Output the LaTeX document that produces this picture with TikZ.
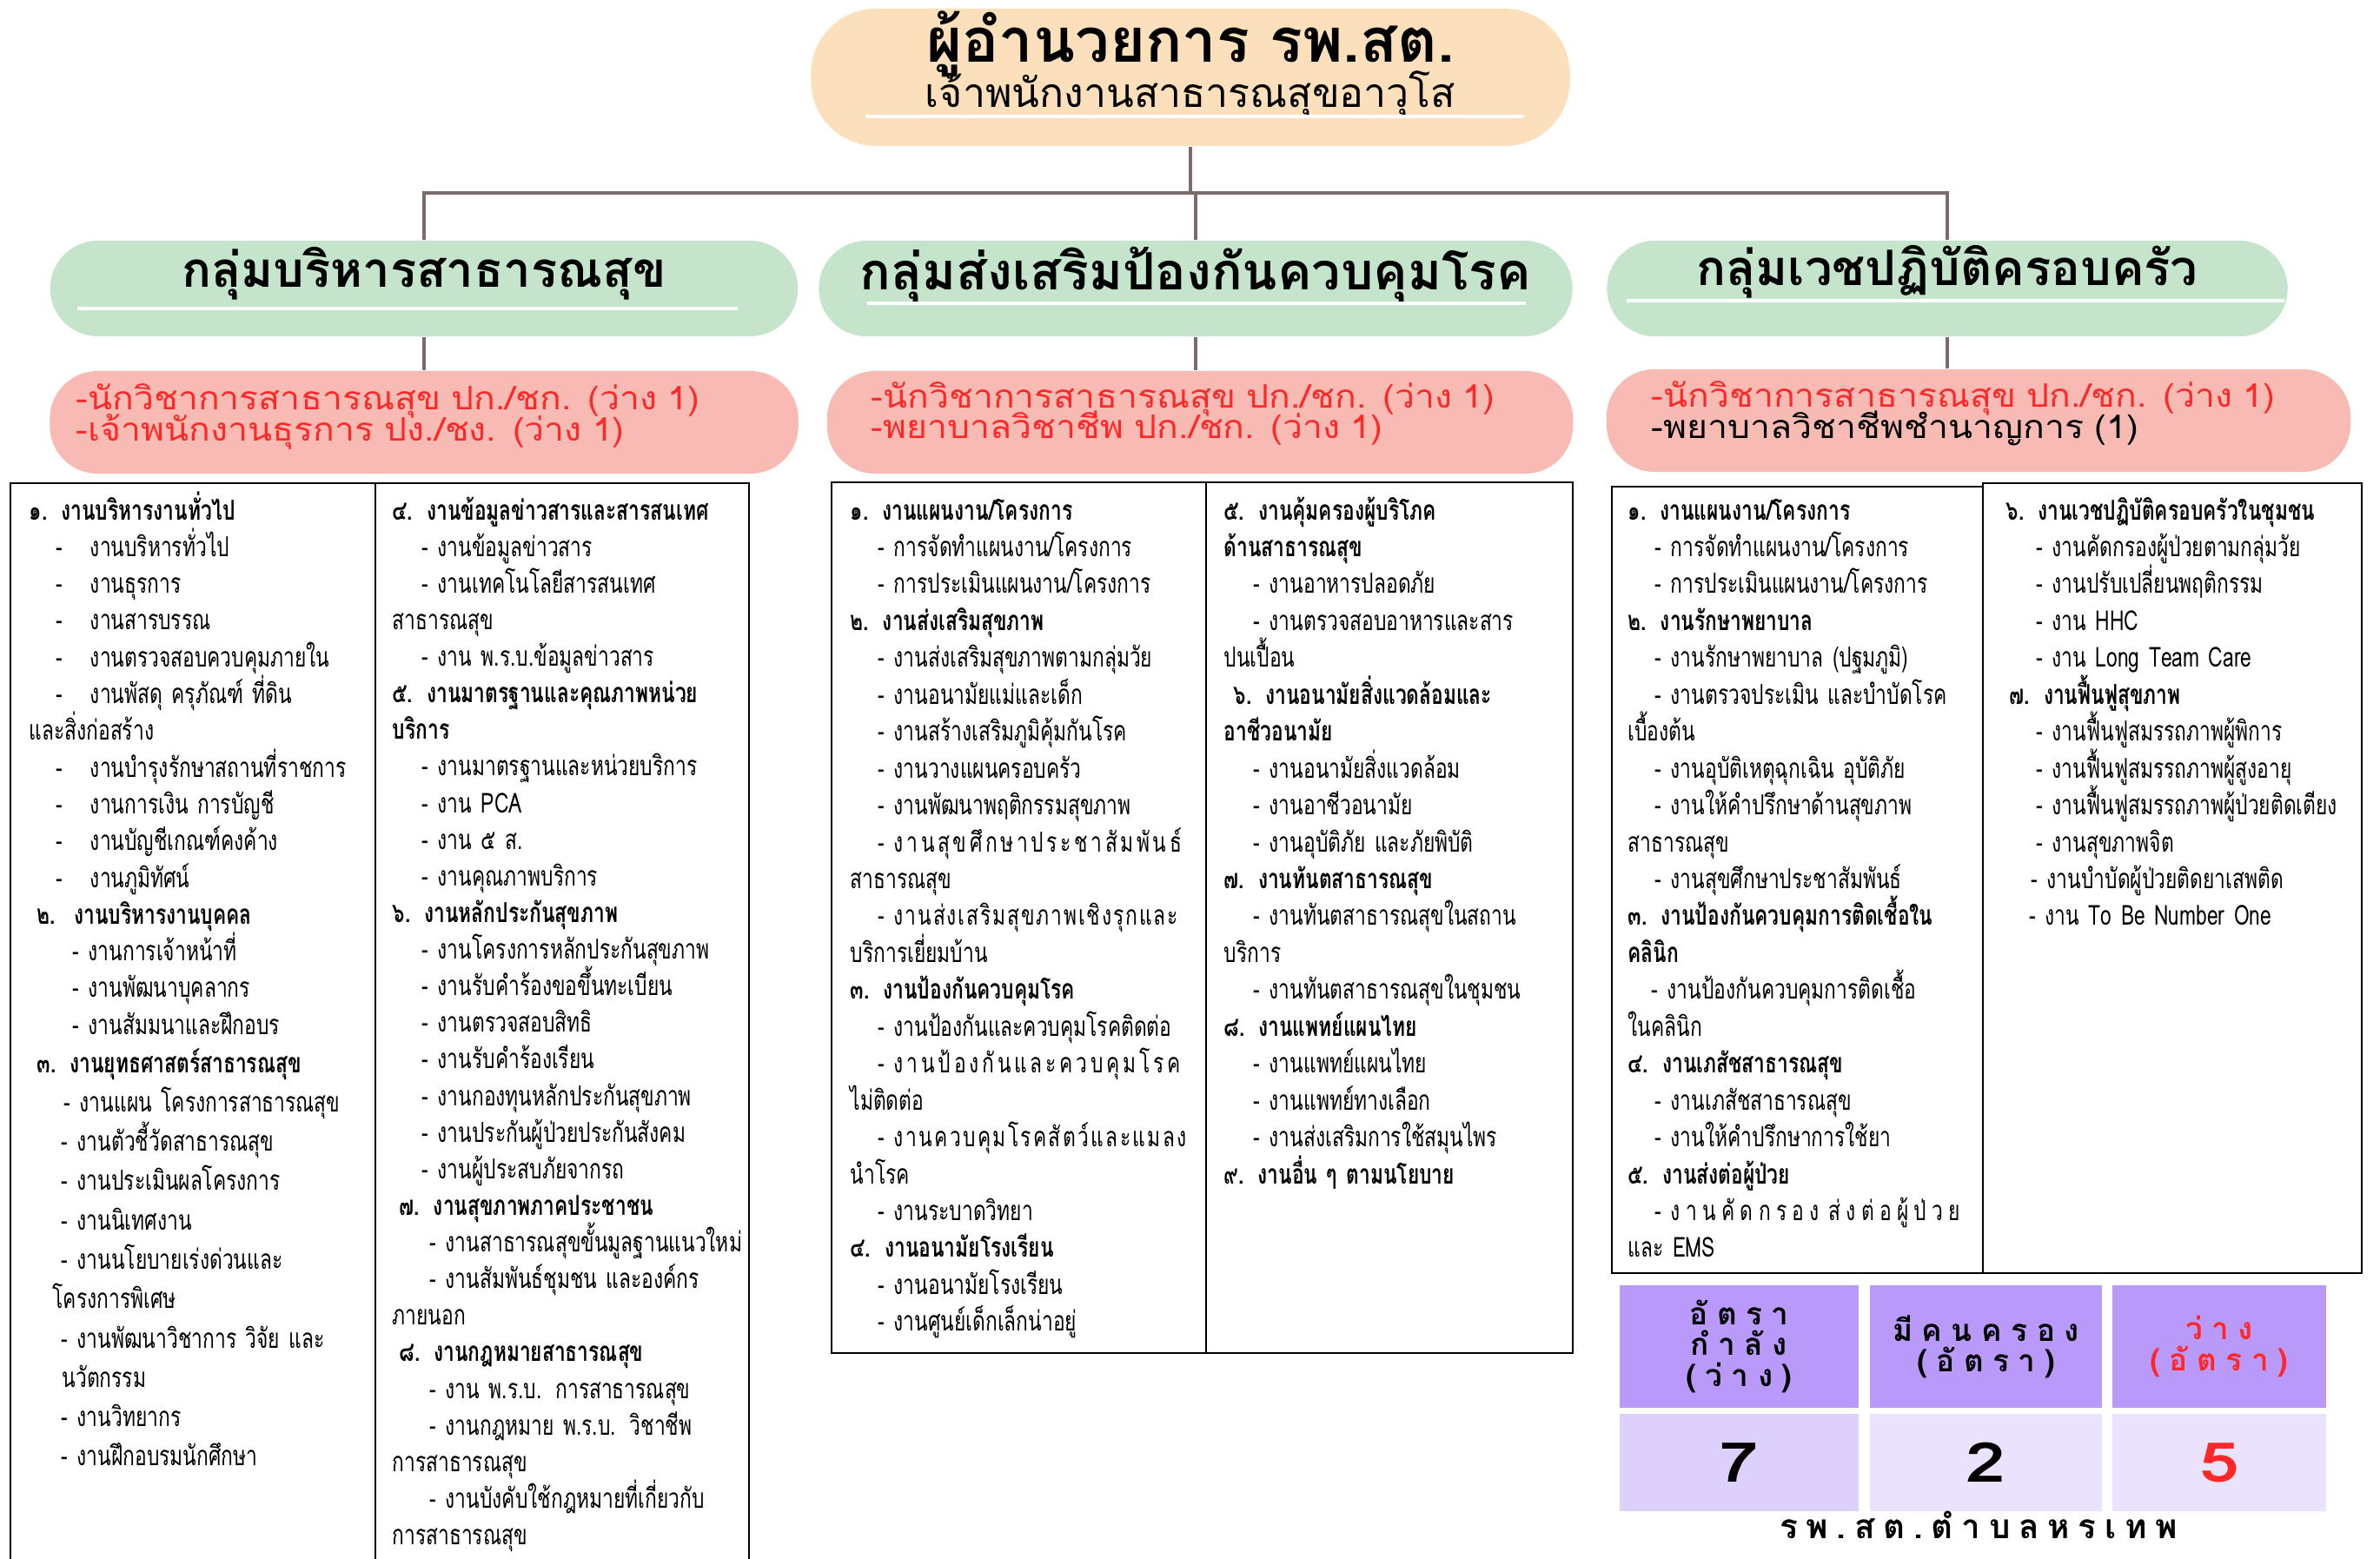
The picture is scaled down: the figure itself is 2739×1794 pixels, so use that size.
\documentclass[tikz,border=0pt]{standalone}
\usepackage{fontspec}
\setmainfont{Loma}[Script=Thai]
\newfontfamily\thainarrow{Loma}[Script=Thai,FakeStretch=0.72]
\newfontfamily\thaiwide{Loma}[Script=Thai,FakeStretch=1.3]
\definecolor{peachbox}{RGB}{252,224,188}
\definecolor{greenbox}{RGB}{196,229,204}
\definecolor{redbox}{RGB}{248,187,180}
\definecolor{linkgray}{RGB}{123,107,107}
\definecolor{redtext}{RGB}{255,40,40}
\definecolor{purplehead}{RGB}{185,154,250}
\definecolor{purplecell}{RGB}{221,208,252}
\definecolor{purplelight}{RGB}{235,227,253}
\newlength\pxu
\setlength\pxu{0.01cm}
\newcommand{\tablefont}[1]{\thainarrow\fontsize{9}{#1}\selectfont\normalbaselineskip=#1\lineskiplimit=-100pt\relax}
\newcommand{\postfont}{\fontsize{10.6}{10.2}\selectfont\addfontfeature{FakeStretch=1.1}\normalbaselineskip=10.2pt\lineskiplimit=-100pt\relax}
\newcommand{\countfont}{\fontsize{10}{10}\selectfont\bfseries\addfontfeature{LetterSpace=30}\normalbaselineskip=10pt\lineskiplimit=-100pt\relax}
\newcommand{\unitfont}{\fontsize{11}{13}\selectfont\bfseries\addfontfeature{LetterSpace=25}}
\newcommand{\jobhead}[2][0]{\hspace*{#1\pxu}\textbf{#2}}
\newcommand{\jobitem}[2][32]{\hspace*{#1\pxu}- #2}
\newcommand{\jobwide}[3][32]{\hspace*{#1\pxu}{\addfontfeature{LetterSpace=#2}- #3}}
\newcommand{\jobwrap}[2][0]{\hspace*{#1\pxu}#2}
\tikzset{
  pillbox/.style={draw=none, rounded corners=0.55cm},
  link/.style={draw=linkgray, line width=0.9pt},
  underline/.style={draw=white, line width=1pt},
  tablebox/.style={draw=black, line width=0.8pt},
  coltext/.style={anchor=base west, align=left, inner sep=0pt, text width=5cm, font=\tablefont{12.07pt}},
  grouptitle/.style={font=\fontsize{16}{19}\selectfont\bfseries},
  posttext/.style={anchor=west, align=left, inner sep=0pt, text width=8cm, text=redtext, font=\postfont},
  headcell/.style={fill=purplehead, minimum width=2.75cm, minimum height=1.41cm, inner sep=0pt, align=center, font=\countfont},
  valuecell/.style={minimum height=1.12cm, inner sep=0pt, font=\thaiwide\fontsize{18}{20}\selectfont\bfseries},
}
\begin{document}
\begin{tikzpicture}[x=0.01cm, y=-0.01cm]
\useasboundingbox (0,0) rectangle (2739,1794);
% director
\node[pillbox, fill=peachbox, rounded corners=0.75cm, minimum width=8.73cm, minimum height=1.58cm] (director) at (1370,89) {};
\node[font=\fontsize{20}{24}\selectfont\bfseries] (directorname) at (1370,51) {ผู้อำนวยการ รพ.สต.};
\node[font=\fontsize{13.2}{16}\selectfont] (directorrank) at (1370,109) {เจ้าพนักงานสาธารณสุขอาวุโส};
\draw[underline] (996,134) -- (1753,134);
% groups
\node[pillbox, fill=greenbox, minimum width=8.6cm, minimum height=1.1cm] (grpadmin) at (488,332) {};
\node[pillbox, fill=greenbox, minimum width=8.67cm, minimum height=1.1cm] (grpcontrol) at (1376,332) {};
\node[pillbox, fill=greenbox, minimum width=7.83cm, minimum height=1.1cm] (grpfamily) at (2241,332) {};
\node[grouptitle] at (488,315) {กลุ่มบริหารสาธารณสุข};
\node[grouptitle, font=\fontsize{16.8}{19}\selectfont\bfseries] at (1376,317) {กลุ่มส่งเสริมป้องกันควบคุมโรค};
\node[grouptitle] at (2241,313) {กลุ่มเวชปฏิบัติครอบครัว};
\draw[underline] (89,355) -- (849,355);
\draw[underline] (998,349) -- (1756,349);
\draw[underline] (1872,346) -- (2629,346);
\coordinate (hub) at (1370,222);
\draw[link] (director.south) -- (hub);
\draw[link] (grpadmin.north) |- (hub) -| (grpfamily.north);
\draw[link] (grpcontrol.north) -- (grpcontrol.north |- hub);
% posts
\node[pillbox, fill=redbox, minimum width=8.61cm, minimum height=1.18cm] (postadmin) at (488,486) {};
\node[pillbox, fill=redbox, minimum width=8.58cm, minimum height=1.18cm] (postcontrol) at (1381,486) {};
\node[pillbox, fill=redbox, minimum width=8.56cm, minimum height=1.18cm] (postfamily) at (2277,484) {};
\draw[link] (grpadmin.south) -- (postadmin.north);
\draw[link] (grpcontrol.south) -- (grpcontrol.south |- postcontrol.north);
\draw[link] (grpfamily.south) -- (grpfamily.south |- postfamily.north);
\node[posttext] at (87,479) {-นักวิชาการสาธารณสุข ปก./ชก. (ว่าง 1)\\-เจ้าพนักงานธุรการ ปง./ชง. (ว่าง 1)};
\node[posttext] at (1002,476) {-นักวิชาการสาธารณสุข ปก./ชก. (ว่าง 1)\\-พยาบาลวิชาชีพ ปก./ชก. (ว่าง 1)};
\node[posttext] at (1900,476) {-นักวิชาการสาธารณสุข ปก./ชก. (ว่าง 1)\\\textcolor{black}{-พยาบาลวิชาชีพชำนาญการ (1)}};
% tables
\draw[tablebox] (12,556) rectangle (862,1820);
\draw[tablebox] (432,556) -- (432,1820);
\draw[tablebox] (957,555) rectangle (1810,1557);
\draw[tablebox] (1388,555) -- (1388,1557);
\draw[tablebox] (1855,560) rectangle (2282,1465);
\draw[tablebox] (2282,556) rectangle (2718,1465);
\node[coltext, font=\tablefont{12.03pt}] (coladmin) at (33,598) {%
\jobhead{๑. งานบริหารงานทั่วไป}\\
\jobitem[31]{~~งานบริหารทั่วไป}\\
\jobitem[31]{~~งานธุรการ}\\
\jobitem[31]{~~งานสารบรรณ}\\
\jobitem[31]{~~งานตรวจสอบควบคุมภายใน}\\
\jobitem[31]{~~งานพัสดุ ครุภัณฑ์ ที่ดิน}\\
\jobwrap{และสิ่งก่อสร้าง}\\
\jobitem[31]{~~งานบำรุงรักษาสถานที่ราชการ}\\
\jobitem[31]{~~งานการเงิน การบัญชี}\\
\jobitem[31]{~~งานบัญชีเกณฑ์คงค้าง}\\
\jobitem[31]{~~งานภูมิทัศน์}\\
\jobhead[9]{๒.~~งานบริหารงานบุคคล}\\
\jobitem[50]{งานการเจ้าหน้าที่}\\
\jobitem[50]{งานพัฒนาบุคลากร}\\
\jobitem[50]{งานสัมมนาและฝึกอบร}};
\node[coltext, font=\tablefont{12.88pt}] (colplan) at (33,1234) {%
\jobhead[9]{๓. งานยุทธศาสตร์สาธารณสุข}\\
\jobitem[40]{งานแผน โครงการสาธารณสุข}\\
\jobitem[37]{งานตัวชี้วัดสาธารณสุข}\\
\jobitem[37]{งานประเมินผลโครงการ}\\
\jobitem[37]{งานนิเทศงาน}\\
\jobitem[37]{งานนโยบายเร่งด่วนและ}\\
\jobwrap[27]{โครงการพิเศษ}\\
\jobitem[37]{งานพัฒนาวิชาการ วิจัย และ}\\
\jobwrap[38]{นวัตกรรม}\\
\jobitem[37]{งานวิทยากร}\\
\jobitem[37]{งานฝึกอบรมนักศึกษา}};
\node[coltext, font=\tablefont{11.98pt}] (colinfo) at (451,598) {%
\jobhead{๔. งานข้อมูลข่าวสารและสารสนเทศ}\\
\jobitem[34]{งานข้อมูลข่าวสาร}\\
\jobitem[34]{งานเทคโนโลยีสารสนเทศ}\\
\jobwrap{สาธารณสุข}\\
\jobitem[34]{งาน พ.ร.บ.ข้อมูลข่าวสาร}\\
\jobhead{๕. งานมาตรฐานและคุณภาพหน่วย}\\
\jobhead{บริการ}\\
\jobitem[34]{งานมาตรฐานและหน่วยบริการ}\\
\jobitem[34]{งาน PCA}\\
\jobitem[34]{งาน ๕ ส.}\\
\jobitem[34]{งานคุณภาพบริการ}\\
\jobhead{๖. งานหลักประกันสุขภาพ}\\
\jobitem[34]{งานโครงการหลักประกันสุขภาพ}\\
\jobitem[34]{งานรับคำร้องขอขึ้นทะเบียน}\\
\jobitem[34]{งานตรวจสอบสิทธิ}\\
\jobitem[34]{งานรับคำร้องเรียน}\\
\jobitem[34]{งานกองทุนหลักประกันสุขภาพ}\\
\jobitem[34]{งานประกันผู้ป่วยประกันสังคม}\\
\jobitem[34]{งานผู้ประสบภัยจากรถ}\\
\jobhead[8]{๗. งานสุขภาพภาคประชาชน}\\
\jobitem[43]{งานสาธารณสุขขั้นมูลฐานแนวใหม่}\\
\jobitem[43]{งานสัมพันธ์ชุมชน และองค์กร}\\
\jobwrap{ภายนอก}\\
\jobhead[8]{๘. งานกฎหมายสาธารณสุข}\\
\jobitem[43]{งาน พ.ร.บ. การสาธารณสุข}\\
\jobitem[43]{งานกฎหมาย พ.ร.บ. วิชาชีพ}\\
\jobwrap{การสาธารณสุข}\\
\jobitem[43]{งานบังคับใช้กฎหมายที่เกี่ยวกับ}\\
\jobwrap{การสาธารณสุข}};
\node[coltext] (colpromote) at (978,598) {%
\jobhead{๑. งานแผนงาน/โครงการ}\\
\jobitem{การจัดทำแผนงาน/โครงการ}\\
\jobitem{การประเมินแผนงาน/โครงการ}\\
\jobhead{๒. งานส่งเสริมสุขภาพ}\\
\jobitem{งานส่งเสริมสุขภาพตามกลุ่มวัย}\\
\jobitem{งานอนามัยแม่และเด็ก}\\
\jobitem{งานสร้างเสริมภูมิคุ้มกันโรค}\\
\jobitem{งานวางแผนครอบครัว}\\
\jobitem{งานพัฒนาพฤติกรรมสุขภาพ}\\
\jobwide{11.5}{งานสุขศึกษาประชาสัมพันธ์}\\
\jobwrap{สาธารณสุข}\\
\jobwide{6}{งานส่งเสริมสุขภาพเชิงรุกและ}\\
\jobwrap{บริการเยี่ยมบ้าน}\\
\jobhead{๓. งานป้องกันควบคุมโรค}\\
\jobitem{งานป้องกันและควบคุมโรคติดต่อ}\\
\jobwide{12}{งานป้องกันและควบคุมโรค}\\
\jobwrap{ไม่ติดต่อ}\\
\jobwide{7.5}{งานควบคุมโรคสัตว์และแมลง}\\
\jobwrap{นำโรค}\\
\jobitem{งานระบาดวิทยา}\\
\jobhead{๔. งานอนามัยโรงเรียน}\\
\jobitem{งานอนามัยโรงเรียน}\\
\jobitem{งานศูนย์เด็กเล็กน่าอยู่}};
\node[coltext] (colhealth) at (1408,598) {%
\jobhead{๕. งานคุ้มครองผู้บริโภค}\\
\jobhead{ด้านสาธารณสุข}\\
\jobitem[34]{งานอาหารปลอดภัย}\\
\jobitem[34]{งานตรวจสอบอาหารและสาร}\\
\jobwrap{ปนเปื้อน}\\
\jobhead[11]{๖. งานอนามัยสิ่งแวดล้อมและ}\\
\jobhead{อาชีวอนามัย}\\
\jobitem[34]{งานอนามัยสิ่งแวดล้อม}\\
\jobitem[34]{งานอาชีวอนามัย}\\
\jobitem[34]{งานอุบัติภัย และภัยพิบัติ}\\
\jobhead{๗. งานทันตสาธารณสุข}\\
\jobitem[34]{งานทันตสาธารณสุขในสถาน}\\
\jobwrap{บริการ}\\
\jobitem[34]{งานทันตสาธารณสุขในชุมชน}\\
\jobhead{๘. งานแพทย์แผนไทย}\\
\jobitem[34]{งานแพทย์แผนไทย}\\
\jobitem[34]{งานแพทย์ทางเลือก}\\
\jobitem[34]{งานส่งเสริมการใช้สมุนไพร}\\
\jobhead{๙. งานอื่น ๆ ตามนโยบาย}};
\node[coltext] (colclinic) at (1873,598) {%
\jobhead{๑. งานแผนงาน/โครงการ}\\
\jobitem[31]{การจัดทำแผนงาน/โครงการ}\\
\jobitem[31]{การประเมินแผนงาน/โครงการ}\\
\jobhead{๒. งานรักษาพยาบาล}\\
\jobitem[31]{งานรักษาพยาบาล (ปฐมภูมิ)}\\
\jobitem[31]{งานตรวจประเมิน และบำบัดโรค}\\
\jobwrap{เบื้องต้น}\\
\jobitem[31]{งานอุบัติเหตุฉุกเฉิน อุบัติภัย}\\
\jobitem[31]{งานให้คำปรึกษาด้านสุขภาพ}\\
\jobwrap{สาธารณสุข}\\
\jobitem[31]{งานสุขศึกษาประชาสัมพันธ์}\\
\jobhead{๓. งานป้องกันควบคุมการติดเชื้อใน}\\
\jobhead{คลินิก}\\
\jobitem[27]{งานป้องกันควบคุมการติดเชื้อ}\\
\jobwrap{ในคลินิก}\\
\jobhead{๔. งานเภสัชสาธารณสุข}\\
\jobitem[31]{งานเภสัชสาธารณสุข}\\
\jobitem[31]{งานให้คำปรึกษาการใช้ยา}\\
\jobhead{๕. งานส่งต่อผู้ป่วย}\\
\jobwide[31]{20}{งานคัดกรอง ส่งต่อผู้ป่วย}\\
\jobwrap{และ EMS}};
\node[coltext] (colcommunity) at (2308,598) {%
\jobhead{๖. งานเวชปฏิบัติครอบครัวในชุมชน}\\
\jobitem[35]{งานคัดกรองผู้ป่วยตามกลุ่มวัย}\\
\jobitem[35]{งานปรับเปลี่ยนพฤติกรรม}\\
\jobitem[35]{งาน HHC}\\
\jobitem[35]{งาน Long Team Care}\\
\jobhead[4]{๗. งานฟื้นฟูสุขภาพ}\\
\jobitem[35]{งานฟื้นฟูสมรรถภาพผู้พิการ}\\
\jobitem[35]{งานฟื้นฟูสมรรถภาพผู้สูงอายุ}\\
\jobitem[35]{งานฟื้นฟูสมรรถภาพผู้ป่วยติดเตียง}\\
\jobitem[35]{งานสุขภาพจิต}\\
\jobitem[29]{งานบำบัดผู้ป่วยติดยาเสพติด}\\
\jobitem[27]{งาน To Be Number One}};
% staff count
\node[headcell] (ratehead) at (2001.5,1549.5) {อัตรา\\กำลัง\\(ว่าง)};
\node[headcell, minimum width=2.67cm] (filledhead) at (2285.5,1549.5) {มีคนครอง\\(อัตรา)};
\node[headcell, minimum width=2.46cm, text=redtext] (vacanthead) at (2554,1549.5) {ว่าง\\(อัตรา)};
\node[valuecell, fill=purplecell, minimum width=2.75cm] (ratevalue) at (2001.5,1683) {7};
\node[valuecell, fill=purplelight, minimum width=2.67cm] (filledvalue) at (2285.5,1683) {2};
\node[valuecell, fill=purplelight, minimum width=2.46cm, text=redtext] (vacantvalue) at (2554,1683) {5};
\node[font=\unitfont] (unitname) at (2277,1755) {รพ.สต.ตำบลหรเทพ};
\end{tikzpicture}
\end{document}
